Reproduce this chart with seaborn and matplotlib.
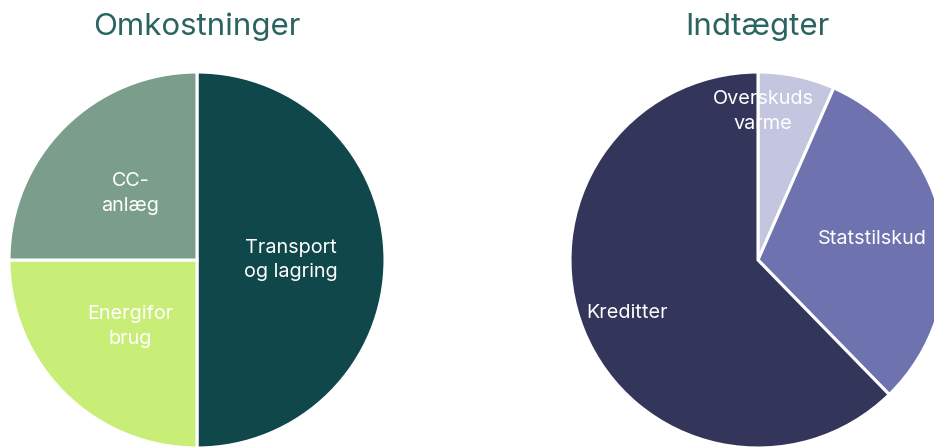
import numpy as np
import matplotlib
matplotlib.use("Agg")
import matplotlib.pyplot as plt
import seaborn as sns

# ----- data -----
cost_labels = ["Transport\nog lagring", "Energifor\nbrug", "CC-\nanlæg"]
cost_values = [50, 25, 25]
cost_colors = ["#10474b", "#c8ee78", "#7a9e8b"]

income_labels = ["Overskuds\nvarme", "Statstilskud", "Kreditter"]
income_values = [6.6, 31.1, 62.3]
income_colors = ["#c4c6e0", "#6e72ae", "#33355a"]

# label radius (fraction of pie radius) and optional fixed angle
cost_label_r = [0.5, 0.5, 0.5]
income_label_r = [0.79, 0.62, 0.75]
income_label_angle = [88, None, None]

sns.set_theme(style="white")
plt.rcParams["font.family"] = ["Inter", "DejaVu Sans"]

fig = plt.figure(figsize=(9.34, 4.48), dpi=100)
title_color = "#2a6460"


def draw_pie(ax, values, labels, colors, radii, angles=None):
    wedges, _ = ax.pie(values, colors=colors, startangle=90, counterclock=False,
                       wedgeprops=dict(edgecolor="white", linewidth=2.2))
    for i, w in enumerate(wedges):
        theta = (w.theta1 + w.theta2) / 2
        if angles is not None and angles[i] is not None:
            theta = angles[i]
        r = radii[i]
        x = r * np.cos(np.deg2rad(theta))
        y = r * np.sin(np.deg2rad(theta))
        ax.text(x, y, labels[i], ha="center", va="center", color="white",
                fontsize=14.3, linespacing=1.45)
    ax.set_xlim(-1, 1)
    ax.set_ylim(-1, 1)
    ax.axis("off")


ax1 = fig.add_axes([9 / 934, 0, 376 / 934, 376 / 448])
draw_pie(ax1, cost_values, cost_labels, cost_colors, cost_label_r)

ax2 = fig.add_axes([570 / 934, 0, 376 / 934, 376 / 448])
draw_pie(ax2, income_values, income_labels, income_colors, income_label_r, income_label_angle)

fig.text(197 / 934, 1 - 27 / 448, "Omkostninger", ha="center", va="center",
         fontsize=22.5, color=title_color)
fig.text(757 / 934, 1 - 27 / 448, "Indtægter", ha="center", va="center",
         fontsize=22.5, color=title_color)

fig.savefig("out.png", dpi=100)
